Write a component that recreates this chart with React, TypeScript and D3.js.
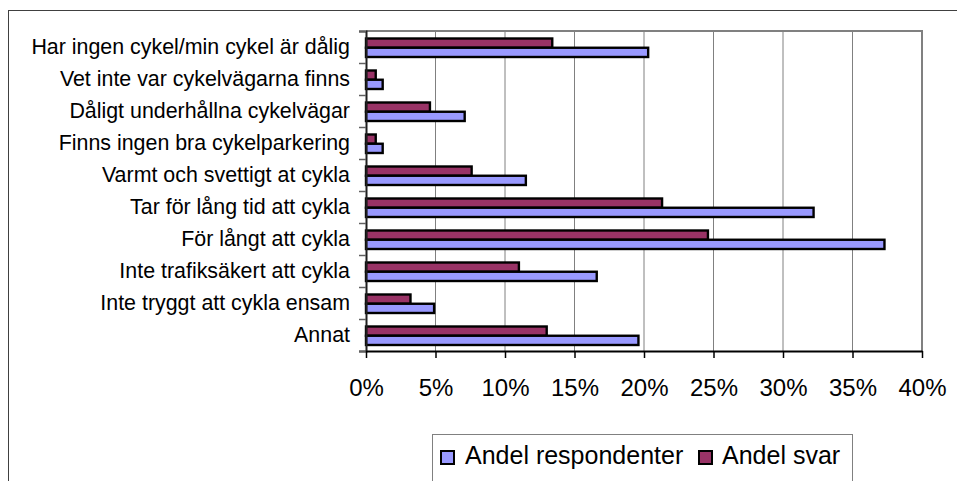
import React, { useEffect, useRef } from 'react'
import * as d3 from 'd3'

/* data */
const categories = [
  'Har ingen cykel/min cykel är dålig',
  'Vet inte var cykelvägarna finns',
  'Dåligt underhållna cykelvägar',
  'Finns ingen bra cykelparkering',
  'Varmt och svettigt at cykla',
  'Tar för lång tid att cykla',
  'För långt att cykla',
  'Inte trafiksäkert att cykla',
  'Inte tryggt att cykla ensam',
  'Annat'
]
const andelRespondenter = [20.3, 1.2, 7.1, 1.2, 11.5, 32.2, 37.3, 16.6, 4.9, 19.6]
const andelSvar = [13.4, 0.7, 4.6, 0.7, 7.6, 21.3, 24.6, 11.0, 3.2, 13.0]
const xTicks = [0, 5, 10, 15, 20, 25, 30, 35, 40]
const seriesNames = ['Andel respondenter', 'Andel svar']

const FONT = "'Liberation Sans', Arial, sans-serif"

export default function App() {
  const ref = useRef<SVGSVGElement>(null)

  useEffect(() => {
    const svg = d3.select(ref.current)
    svg.selectAll('*').remove()

    /* const setup */
    const left = 366, right = 922, top = 31, bottom = 351

    const x = d3.scaleLinear().domain([0, 40]).range([left, right])
    const y = d3.scaleBand().domain(categories).range([top, bottom])
    const sub = d3.scaleBand().domain(['svar', 'resp']).range([7.5, 26])
    const color = d3.scaleOrdinal<string>().domain(seriesNames).range(['#9999ff', '#993366'])

    /* outer chart border */
    svg.append('rect')
      .attr('x', 8.5).attr('y', 10.5)
      .attr('width', 1200).attr('height', 1000)
      .attr('fill', 'white').attr('stroke', '#404040').attr('stroke-width', 1)

    /* gridlines */
    svg.append('g')
      .selectAll('line')
      .data(xTicks.filter(d => d > 0 && d < 40))
      .enter()
      .append('line')
      .attr('x1', d => x(d)).attr('x2', d => x(d))
      .attr('y1', top).attr('y2', bottom)
      .attr('stroke', '#808080').attr('stroke-width', 1)

    /* plot border top + right */
    svg.append('path')
      .attr('d', `M${left},${top}H${right}V${bottom}`)
      .attr('fill', 'none').attr('stroke', '#808080').attr('stroke-width', 2)

    /* bars */
    const rows = categories.map((c, i) => ({ c, resp: andelRespondenter[i], svar: andelSvar[i] }))
    const g = svg.append('g')
    g.selectAll('rect.svar')
      .data(rows)
      .enter()
      .append('rect')
      .attr('x', x(0))
      .attr('y', d => (y(d.c) as number) + (sub('svar') as number))
      .attr('width', d => x(d.svar) - x(0))
      .attr('height', sub.bandwidth())
      .attr('fill', color('Andel svar'))
      .attr('stroke', '#000').attr('stroke-width', 2.4)
    g.selectAll('rect.resp')
      .data(rows)
      .enter()
      .append('rect')
      .attr('x', x(0))
      .attr('y', d => (y(d.c) as number) + (sub('resp') as number))
      .attr('width', d => x(d.resp) - x(0))
      .attr('height', sub.bandwidth())
      .attr('fill', color('Andel respondenter'))
      .attr('stroke', '#000').attr('stroke-width', 2.4)

    /* y axis: ticks at band boundaries */
    const yEdge = d3.scaleLinear().domain([0, categories.length]).range([top, bottom])
    const yAxis = svg.append('g')
      .attr('transform', `translate(${left},0)`)
      .call(d3.axisLeft(yEdge).ticks(10).tickSize(7).tickFormat(() => ''))
    yAxis.select('.domain').attr('stroke', '#202020').attr('stroke-width', 2)
    yAxis.selectAll('.tick line').attr('stroke', '#606060').attr('stroke-width', 1.5)

    /* category labels */
    svg.append('g')
      .selectAll('text')
      .data(categories)
      .enter()
      .append('text')
      .attr('x', 350)
      .attr('y', d => (y(d) as number) + y.bandwidth() / 2 + 7)
      .attr('text-anchor', 'end')
      .attr('font-family', FONT)
      .attr('font-size', 21.4)
      .attr('fill', '#000')
      .text(d => d)

    /* x axis */
    const xAxis = svg.append('g')
      .attr('transform', `translate(0,${bottom})`)
      .call(d3.axisBottom(x).tickValues(xTicks).tickSize(7).tickSizeOuter(0).tickFormat(d => `${d}%`))
    xAxis.select('.domain').attr('stroke', '#000').attr('stroke-width', 2)
    xAxis.selectAll('.tick line').attr('stroke', '#000').attr('stroke-width', 1.5)
    xAxis.selectAll('.tick text')
      .attr('y', 45).attr('dy', 0)
      .attr('font-family', FONT).attr('font-size', 24).attr('fill', '#000')

    /* legend */
    const legend = svg.append('g')
    legend.append('rect')
      .attr('x', 432.5).attr('y', 434.5)
      .attr('width', 420).attr('height', 100)
      .attr('fill', 'white').attr('stroke', '#808080').attr('stroke-width', 1)
    const legendItems = [
      { name: seriesNames[0], sx: 441, tx: 465 },
      { name: seriesNames[1], sx: 699, tx: 722 }
    ]
    const li = legend.selectAll('g.item').data(legendItems).enter().append('g')
    li.append('rect')
      .attr('x', d => d.sx).attr('y', 451)
      .attr('width', 13).attr('height', 13)
      .attr('fill', d => color(d.name))
      .attr('stroke', '#000').attr('stroke-width', 2)
    li.append('text')
      .attr('x', d => d.tx).attr('y', 464)
      .attr('font-family', FONT).attr('font-size', 25).attr('fill', '#000')
      .text(d => d.name)
  }, [])

  return (
    <svg ref={ref} width={957} height={481}
      style={{ position: 'absolute', left: 0, top: 0, background: 'white' }} />
  )
}
